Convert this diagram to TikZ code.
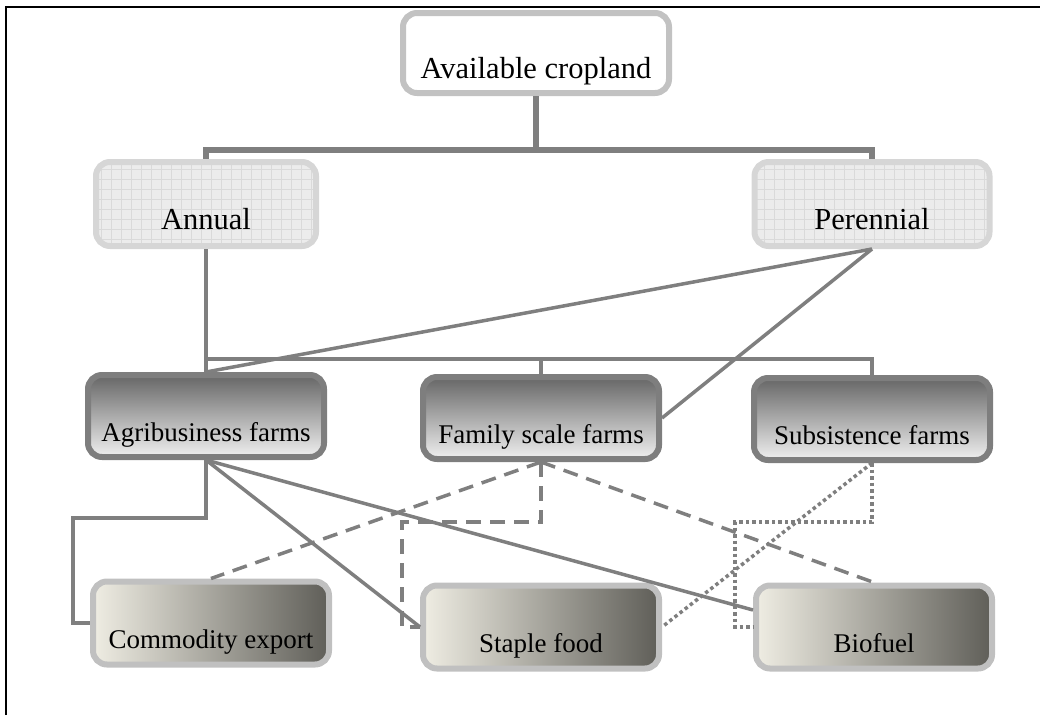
\documentclass[tikz,border=0pt]{standalone}
\usepackage{fontspec}
\setmainfont{Liberation Serif}
\usetikzlibrary{positioning}

\definecolor{linegray}{HTML}{7F7F7F}
\definecolor{cropedge}{HTML}{C2C2C2}
\definecolor{gridedge}{HTML}{D6D6D6}
\definecolor{gridfill}{HTML}{ECECEC}
\definecolor{gridline}{HTML}{DADADA}
\definecolor{farmedge}{HTML}{7E7E7E}
\definecolor{farmtop}{HTML}{666666}
\definecolor{farmbottom}{HTML}{F0F0F0}
\definecolor{useedge}{HTML}{C0C0C0}
\definecolor{useleft}{HTML}{EFEDE3}
\definecolor{useright}{HTML}{5F5E58}

\begin{document}
\begin{tikzpicture}[x=1pt, y=-1pt,
  box/.style={rounded corners=14pt, line width=6pt, inner sep=0pt,
    minimum width=236pt, minimum height=83pt, text height=54pt, text depth=4pt},
  topbox/.style={box, draw=cropedge, fill=white, minimum width=266pt,
    minimum height=80pt, font=\fontsize{30.5}{36}\selectfont},
  gridbox/.style={box, draw=gridedge, fill=gridfill, minimum width=235pt,
    minimum height=84pt, font=\fontsize{30.5}{36}\selectfont,
    path picture={\draw[gridline, line width=0.6pt, step=10pt]
      (path picture bounding box.south west) grid (path picture bounding box.north east);}},
  farmbox/.style={box, draw=farmedge, top color=farmtop, bottom color=farmbottom,
    minimum height=82pt, font=\fontsize{27}{32}\selectfont},
  usebox/.style={box, draw=useedge, left color=useleft, right color=useright,
    font=\fontsize{27}{32}\selectfont},
  trunk/.style={draw=linegray, line width=6.5pt},
  branch/.style={draw=linegray, line width=3.5pt},
  dashline/.style={branch, dash pattern=on 15pt off 9pt},
  dotline/.style={branch, dash pattern=on 3.5pt off 3pt}]

\useasboundingbox (0,0) rectangle (1040,715);

% frame
\draw[line width=2pt] (6,715) -- (6,7) -- (1040,7);

% cropland and crop type
\node[topbox] (crop) at (536,53) {Available cropland};
\node[gridbox, minimum width=220pt] (annual) at (206,204) {Annual};
\node[gridbox] (perennial) at (872,204) {Perennial};

% farms
\node[farmbox] (agri) at (206,416) {Agribusiness farms};
\node[farmbox] (family) at (541,418) {Family scale farms};
\node[farmbox] (subs) at (872,419) {Subsistence farms};

% uses
\node[usebox] (commodity) at (211,623) {Commodity export};
\node[usebox] (staple) at (541,627) {Staple food};
\node[usebox] (biofuel) at (874,627) {Biofuel};

% upper tree
\draw[trunk] (crop.south) -- ++(0,54) coordinate (fork) -| (annual.north);
\draw[trunk] (fork) -| (perennial.north);

% annual and perennial to farms
\draw[branch] (annual.south) -- ++(0,110) coordinate (split) -- (agri.north);
\draw[branch] (split) -| (family.north);
\draw[branch] (split) -| (subs.north);
\draw[branch] (perennial.south) -- (agri.north);
\draw[branch] (perennial.south) -- (family.east);

% agribusiness
\draw[branch] (agri.south) -- ++(0,58) -| ([xshift=-17pt]commodity.west) -- (commodity.west);
\draw[branch] (agri.south) -- (staple.west);
\draw[branch] (agri.south) -- ([yshift=17pt]biofuel.west);

% family scale
\draw[dashline] (family.south) -- (commodity.north);
\draw[dashline] (family.south) -- (biofuel.north);
\draw[dashline] (family.south) -- ++(0,60) -| ([xshift=-18pt]staple.west) -- (staple.west);

% subsistence
\draw[dotline] (subs.south) -- (staple.east);
\draw[dotline] (subs.south) -- ++(0,59) -| ([xshift=-18pt]biofuel.west) -- (biofuel.west);

\end{tikzpicture}
\end{document}
